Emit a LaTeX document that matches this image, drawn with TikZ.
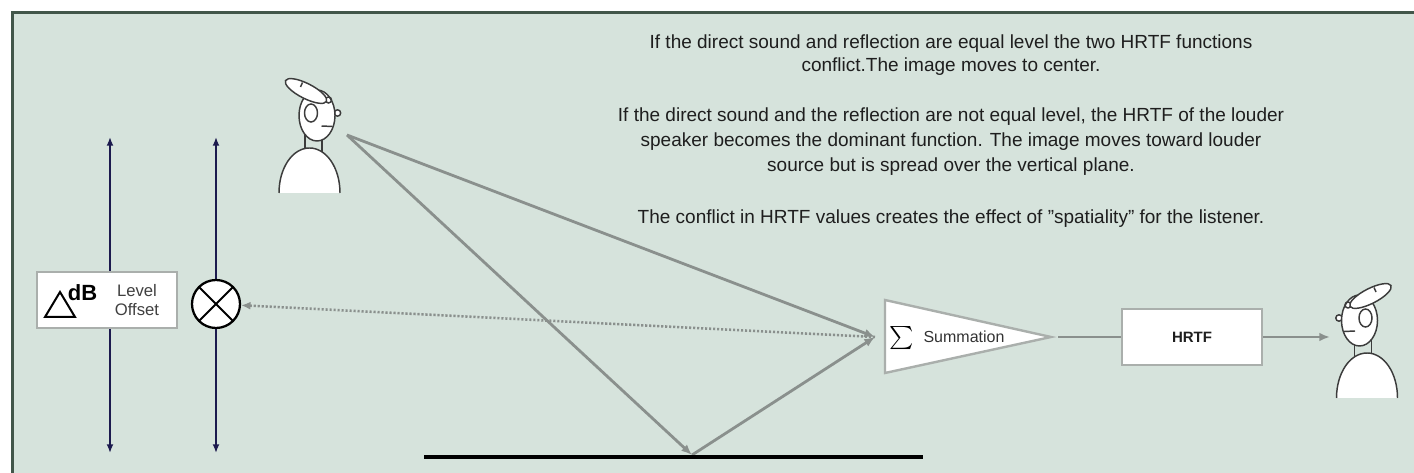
\documentclass[tikz,border=0pt]{standalone}
\usepackage{amsmath}
\usepackage{fontspec}
\setmainfont{Liberation Sans}
\usetikzlibrary{arrows.meta}

\definecolor{panel}{RGB}{214,227,220}
\definecolor{rim}{RGB}{66,86,74}
\definecolor{navy}{RGB}{28,26,78}
\definecolor{raygrey}{RGB}{138,144,141}
\definecolor{edgegrey}{RGB}{170,175,172}
\definecolor{ink}{RGB}{30,30,30}
\definecolor{figline}{RGB}{60,60,60}

% a listener seen in profile, facing +x; origin at the bottom centre of the body
\newcommand\listenerfigure{%
  \draw[fig] (-4.5,-64) -- (-4.5,-40) (12.5,-62) -- (12.5,-36);
  \fill[white] (-30.5,0) .. controls (-30.5,-25) and (-17,-45) .. (0,-45)
               .. controls (17,-45) and (30.5,-25) .. (30.5,0) -- cycle;
  \draw[fig] (-30.5,0) .. controls (-30.5,-25) and (-17,-45) .. (0,-45)
               .. controls (17,-45) and (30.5,-25) .. (30.5,0);
  \draw[fig, fill=white] (28,-80) circle [radius=3.2];
  \draw[fig, fill=white] (7.5,-77.5) ellipse [x radius=18, y radius=25.5];
  \draw[fig] (1.5,-80) ellipse [x radius=6.5, y radius=9];
  \draw[fig] (19,-93) circle [radius=3];
  \draw[fig] (12,-67) -- (23,-66.5);
  \begin{scope}[shift={(-3.5,-102)}, rotate=-27]
    \draw[fig, fill=white] (0,0) ellipse [x radius=23, y radius=7.5];
  \end{scope}
  \draw[fig] (-9,-106) -- (-7,-110.5);
}

\begin{document}
\begin{tikzpicture}[x=0.75pt, y=-0.75pt,
  fig/.style={draw=figline, line width=1.1pt},
  notetext/.style={anchor=base, text=ink, inner sep=0pt,
    font=\fontsize{14.25pt}{17pt}\selectfont},
  levelarrow/.style={draw=navy, line width=1.7pt,
    {Latex[length=6.5pt,width=5.2pt]}-{Latex[length=6.5pt,width=5.2pt]}},
  ray/.style={draw=raygrey, line width=2.1pt},
  raytip/.style={-{Latex[length=8pt,width=6.5pt]}},
  blockbox/.style={draw=edgegrey, line width=1.6pt, fill=white,
    rectangle, inner sep=0pt},
  mixer/.style={circle, draw=black, line width=1.7pt, fill=white,
    minimum size=36pt, inner sep=0pt,
    path picture={\draw[black, line width=1.5pt]
      (path picture bounding box.north west) -- (path picture bounding box.south east)
      (path picture bounding box.north east) -- (path picture bounding box.south west);}}
]
\useasboundingbox (0,0) rectangle (1414,473);

% panel
\fill[white] (0,0) rectangle (1414,473);
\fill[panel] (12.5,12.5) rectangle (1414,473);
\draw[rim, line width=2.6pt] (12.5,473) -- (12.5,12.5) -- (1414,12.5);

% explanatory notes
\node[notetext] (n1) at (951,49) {If the direct sound and reflection are equal level the two HRTF functions};
\node[notetext] (n2) at (951,72) {conflict.The image moves to center.};
\node[notetext] (n3) at (951,122) {If the direct sound and the reflection are not equal level, the HRTF of the louder};
\node[notetext] (n4) at (951,147) {speaker becomes the dominant function. The image moves toward louder};
\node[notetext] (n5) at (951,172) {source but is spread over the vertical plane.};
\node[notetext] (n6) at (951,224) {The conflict in HRTF values creates the effect of "spatiality" for the listener.};

% level range arrows
\coordinate (lvAtop) at (110,137);
\coordinate (lvAbot) at (110,453);
\coordinate (lvBtop) at (216,137);
\coordinate (lvBbot) at (216,453);
\draw[levelarrow] (lvAtop) -- (lvAbot);
\draw[levelarrow] (lvBtop) -- (lvBbot);

% level offset block
\node[blockbox, minimum width=105pt, minimum height=42pt] (offset) at (107,300) {};
\draw[black, line width=1.5pt, line join=miter] (45,317) -- (60,292) -- (75,317) -- cycle;
\node[inner sep=0pt, text=black, font=\fontsize{16.5pt}{18pt}\selectfont\bfseries] (db) at (82.5,292.5) {dB};
\node[inner sep=0pt, text=black!75, font=\fontsize{12.5pt}{14pt}\selectfont] (lvl) at (137,291) {Level};
\node[inner sep=0pt, text=black!75, font=\fontsize{12.5pt}{14pt}\selectfont] (ofs) at (137,310) {Offset};

% mixer
\node[mixer] (mix) at (216,304) {};

% source listener
\begin{scope}[shift={(309.5,193)}]
  \listenerfigure
\end{scope}

% sound paths
\coordinate (src) at (347,135);
\coordinate (bounce) at (692,455);
\coordinate (sumin) at (875,337);
\coordinate (wallL) at (424,457);
\coordinate (wallR) at (923,457);
\draw[ray, raytip] (src) -- (sumin);
\draw[ray, raytip] (src) -- (bounce);
\draw[ray, raytip] (bounce) -- (sumin);
\draw[draw=raygrey, line width=1.9pt, dash pattern=on 1.6pt off 1.4pt,
      -{Latex[length=7pt,width=6pt]}] (sumin) -- (mix);
\draw[black, line width=3pt] (wallL) -- (wallR);

% summation block
\coordinate (sA) at (885,300);
\coordinate (sB) at (1051,337);
\coordinate (sC) at (885,373);
\draw[draw=edgegrey, line width=1.8pt, fill=white, line join=miter] (sA) -- (sB) -- (sC) -- cycle;
\node[inner sep=0pt, text=black] (sigma) at (902,338) {\fontsize{17pt}{20pt}\selectfont$\textstyle\sum$};
\node[inner sep=0pt, text=black!80, font=\fontsize{12pt}{14pt}\selectfont] (sumlabel) at (964,337) {Summation};

% HRTF block and listener
\coordinate (sumout) at (1058,337);
\node[blockbox, minimum width=105pt, minimum height=42pt,
      font=\fontsize{11.25pt}{13pt}\selectfont\bfseries, text=ink] (hrtf) at (1192,337) {HRTF};
\coordinate (earin) at (1330,337);
\draw[ray] (sumout) -- (hrtf.west);
\draw[ray, raytip] (hrtf.east) -- (earin);

\begin{scope}[shift={(1367,398)}, xscale=-1]
  \listenerfigure
\end{scope}
\end{tikzpicture}
\end{document}
